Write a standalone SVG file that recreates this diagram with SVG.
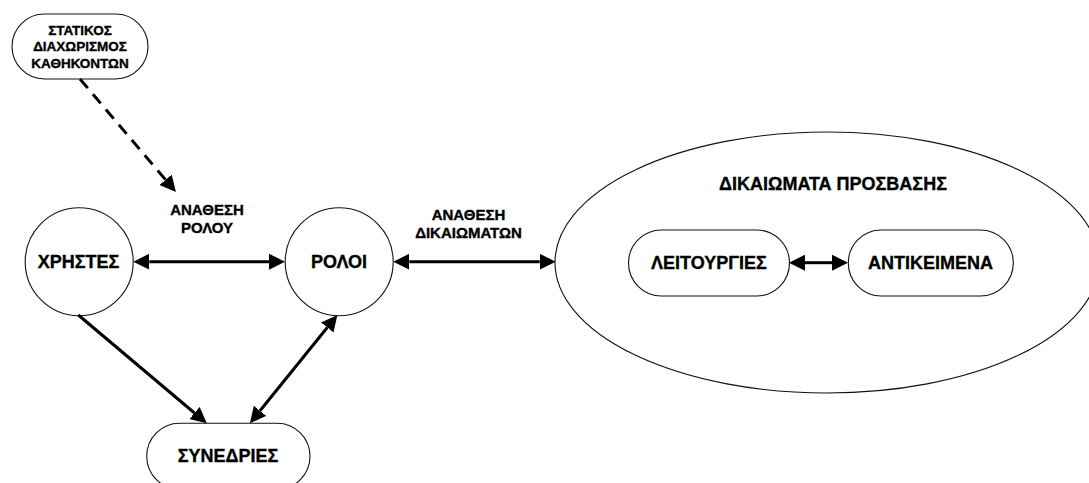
<svg xmlns="http://www.w3.org/2000/svg" width="1089" height="483" viewBox="0 0 1089 483">
  <style>
    .shape { fill: #ffffff; stroke: #111111; stroke-width: 1.1; }
    .lbl { font-family: "Liberation Sans", Arial, sans-serif; font-weight: bold; fill: #000000; stroke: #000000; stroke-width: 0.35; text-anchor: middle; }
    .big { font-size: 18px; }
    .mid { font-size: 15px; }
    .small { font-size: 13.5px; }
    .link { fill: none; stroke: #000000; stroke-width: 3; }
    .dashed { stroke-dasharray: 12 8; }
  </style>
  <defs>
    <marker id="head" markerUnits="userSpaceOnUse" markerWidth="16" markerHeight="16"
            refX="0" refY="8" orient="auto-start-reverse" viewBox="0 0 16 16">
      <path d="M0,0 L16,8 L0,16 Z" fill="#000000"/>
    </marker>
  </defs>

  <rect width="1089" height="483" fill="#ffffff"/>

  <!-- access-rights container -->
  <g id="access-rights">
    <ellipse class="shape" cx="827" cy="262.5" rx="272" ry="130.5"/>
    <text class="lbl big" x="833" y="190">ΔΙΚΑΙΩΜΑΤΑ ΠΡΟΣΒΑΣΗΣ</text>
  </g>

  <g id="static-sod">
    <rect class="shape" x="12" y="14" width="136" height="65" rx="32.5" ry="32.5"/>
    <text class="lbl small" x="80" y="34.5">ΣΤΑΤΙΚΟΣ</text>
    <text class="lbl small" x="80" y="51">ΔΙΑΧΩΡΙΣΜΟΣ</text>
    <text class="lbl small" x="80" y="67.5">ΚΑΘΗΚΟΝΤΩΝ</text>
  </g>

  <g id="users">
    <circle class="shape" cx="79.2" cy="261.7" r="54"/>
    <text class="lbl big" x="78.5" y="267.5">ΧΡΗΣΤΕΣ</text>
  </g>

  <g id="roles">
    <circle class="shape" cx="339.2" cy="261.7" r="54"/>
    <text class="lbl big" x="339" y="267.5">ΡΟΛΟΙ</text>
  </g>

  <g id="sessions">
    <rect class="shape" x="146.7" y="423.3" width="163.3" height="66" rx="33" ry="33"/>
    <text class="lbl big" x="228" y="462">ΣΥΝΕΔΡΙΕΣ</text>
  </g>

  <g id="operations">
    <rect class="shape" x="628.5" y="230" width="161" height="66" rx="33" ry="33"/>
    <text class="lbl big" x="709" y="269.3">ΛΕΙΤΟΥΡΓΙΕΣ</text>
  </g>

  <g id="objects">
    <rect class="shape" x="848.3" y="230" width="165" height="66" rx="33" ry="33"/>
    <text class="lbl big" x="930.5" y="269.3">ΑΝΤΙΚΕΙΜΕΝΑ</text>
  </g>

  <!-- connectors -->
  <g id="connectors">
    <path class="link dashed" d="M80,79 L165.6,179.8" marker-end="url(#head)"/>
    <path class="link" d="M149.3,261.7 L269,261.7" marker-start="url(#head)" marker-end="url(#head)"/>
    <path class="link" d="M409.3,261.7 L539.7,261.7" marker-start="url(#head)" marker-end="url(#head)"/>
    <path class="link" d="M805,262.7 L832,262.7" marker-start="url(#head)" marker-end="url(#head)"/>
    <path class="link" d="M78.3,315 L194.5,413" marker-end="url(#head)"/>
    <path class="link" d="M327.3,327.5 L260,410.8" marker-start="url(#head)" marker-end="url(#head)"/>

    <text class="lbl mid" x="207" y="215">ΑΝΑΘΕΣΗ</text>
    <text class="lbl mid" x="207" y="233.3">ΡΟΛΟΥ</text>
    <text class="lbl mid" x="468.5" y="220">ΑΝΑΘΕΣΗ</text>
    <text class="lbl mid" x="468.5" y="238.3">ΔΙΚΑΙΩΜΑΤΩΝ</text>
  </g>
</svg>
